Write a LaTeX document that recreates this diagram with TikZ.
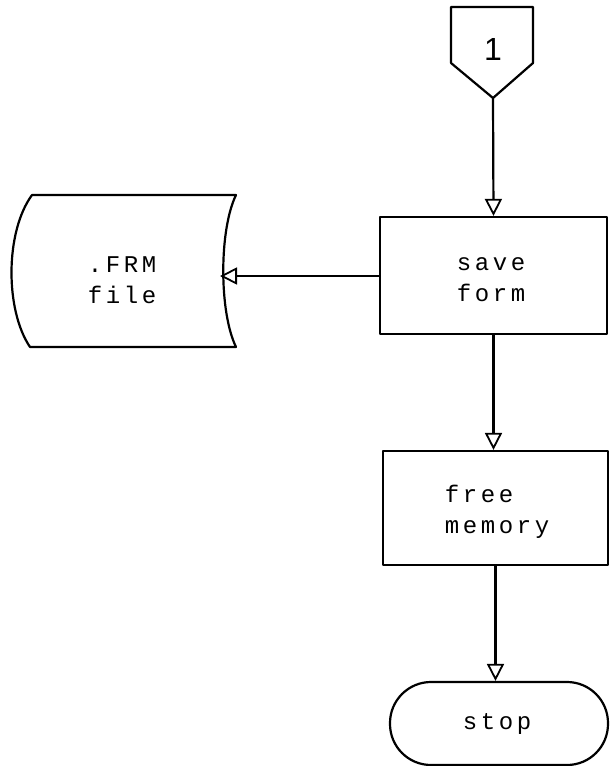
\documentclass[tikz,border=0pt]{standalone}
\usepackage{fontspec}
\setmonofont{Liberation Mono}
\newfontfamily\flowfont[LetterSpace=15]{Liberation Mono}
\newfontfamily\connfont{Liberation Sans}
\usetikzlibrary{arrows.meta}
\begin{document}
\begin{tikzpicture}[x=1pt,y=-1pt,
  line width=2.2pt, line join=round,
  every node/.style={font=\flowfont\fontsize{24}{31}\selectfont, inner sep=0pt},
  procbox/.style={draw, rectangle, align=center},
  flow/.style={-{Triangle[open, length=17pt, width=17pt, line width=1.8pt]}}]
  \useasboundingbox (0,0) rectangle (610,766);

  % off-page connector
  \draw (451,7) -- (533,7) -- (533,63) -- (493,98) -- (451,63) -- cycle;
  \node (conn) at (493,49) {\connfont\fontsize{32}{32}\selectfont 1};
  \coordinate (conntip) at (493,98);

  % process boxes
  \node[procbox, minimum width=227pt, minimum height=117pt] (save) at (493.5,275.5) {};
  \node (savetext) at (491,280) [align=center] {save\\form};

  \node[procbox, minimum width=225pt, minimum height=114pt] (free) at (495.5,508) {};
  \node (freetext) at (497,512) [align=left] {free\\memory};

  % terminator
  \node[draw, rectangle, rounded corners=41pt, minimum width=218pt, minimum height=83pt] (stop) at (499,723.5) {};
  \node (stoptext) at (497,724) {stop};

  % stored data (file) symbol
  \draw (32,195) -- (236,195)
        .. controls (219,230) and (219,312) .. (236,347)
        -- (30,347)
        .. controls (5,310) and (5,232) .. cycle;
  \coordinate (filein) at (220,276);
  \node (filetext) at (122,280) [align=center] {.FRM\\file};

  % connectors
  \draw[flow] (conntip) -- (save.north);
  \draw[flow] (save.south) -- (save.south |- free.north);
  \draw[flow] (free.south) -- (free.south |- stop.north);
  \draw[flow] (save.west |- filein) -- (filein);
\end{tikzpicture}
\end{document}
